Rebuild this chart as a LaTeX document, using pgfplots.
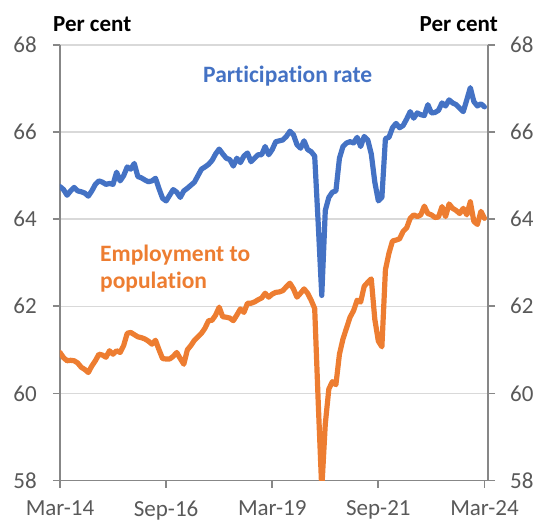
\documentclass[border=0pt]{standalone}
\usepackage{pgfplots}
\pgfplotsset{compat=1.18}
\usepackage{pgfplotstable}
\usepackage{fontspec}
\setmainfont{Carlito}[Ligatures={NoCommon}]
\definecolor{pblue}{HTML}{4472C4}
\definecolor{porange}{HTML}{ED7D31}
\definecolor{tgray}{HTML}{595959}
\definecolor{agray}{HTML}{878787}
\definecolor{ggray}{HTML}{D9D9D9}

\pgfplotstableread{
m v
0 64.75
1 64.68
2 64.55
3 64.65
4 64.73
5 64.65
6 64.63
7 64.60
8 64.53
9 64.65
10 64.80
11 64.88
12 64.85
13 64.80
14 64.82
15 64.80
16 65.08
17 64.88
18 65.00
19 65.20
20 65.15
21 65.28
22 64.98
23 64.95
24 64.90
25 64.86
26 64.88
27 64.94
28 64.70
29 64.48
30 64.42
31 64.55
32 64.68
33 64.62
34 64.50
35 64.65
36 64.71
37 64.78
38 64.85
39 65.00
40 65.15
41 65.20
42 65.26
43 65.35
44 65.50
45 65.61
46 65.50
47 65.40
48 65.37
49 65.22
50 65.40
51 65.30
52 65.45
53 65.52
54 65.32
55 65.40
56 65.48
57 65.48
58 65.67
59 65.48
60 65.60
61 65.78
62 65.80
63 65.82
64 65.90
65 66.02
66 65.94
67 65.71
68 65.63
69 65.80
70 65.60
71 65.55
72 65.45
73 63.90
74 62.25
75 64.20
76 64.50
77 64.62
78 64.65
79 65.40
80 65.67
81 65.75
82 65.78
83 65.75
84 65.88
85 65.67
86 65.90
87 65.82
88 65.50
89 64.85
90 64.42
91 64.50
92 65.85
93 65.88
94 66.10
95 66.20
96 66.10
97 66.15
98 66.30
99 66.47
100 66.32
101 66.44
102 66.40
103 66.38
104 66.63
105 66.44
106 66.45
107 66.50
108 66.67
109 66.60
110 66.74
111 66.67
112 66.63
113 66.55
114 66.47
115 66.74
116 67.02
117 66.70
118 66.60
119 66.65
120 66.58
}\partrate

\pgfplotstableread{
m v
0 60.94
1 60.82
2 60.75
3 60.76
4 60.75
5 60.70
6 60.60
7 60.55
8 60.48
9 60.63
10 60.75
11 60.90
12 60.88
13 60.83
14 60.98
15 60.90
16 60.98
17 60.94
18 61.10
19 61.38
20 61.40
21 61.35
22 61.30
23 61.28
24 61.25
25 61.20
26 61.13
27 61.22
28 61.00
29 60.80
30 60.79
31 60.79
32 60.85
33 60.94
34 60.80
35 60.67
36 61.00
37 61.10
38 61.22
39 61.30
40 61.38
41 61.50
42 61.67
43 61.68
44 61.80
45 61.98
46 61.76
47 61.75
48 61.73
49 61.67
50 61.80
51 61.94
52 61.86
53 62.07
54 62.07
55 62.10
56 62.15
57 62.19
58 62.30
59 62.21
60 62.28
61 62.32
62 62.33
63 62.36
64 62.45
65 62.53
66 62.40
67 62.21
68 62.30
69 62.40
70 62.30
71 62.14
72 61.95
73 59.80
74 57.80
75 59.30
76 60.10
77 60.27
78 60.20
79 60.90
80 61.25
81 61.50
82 61.75
83 61.90
84 62.14
85 62.10
86 62.46
87 62.55
88 62.63
89 61.70
90 61.20
91 61.07
92 62.84
93 63.22
94 63.50
95 63.52
96 63.55
97 63.72
98 63.80
99 64.02
100 64.10
101 64.06
102 64.10
103 64.30
104 64.13
105 64.10
106 64.04
107 64.05
108 64.29
109 64.06
110 64.35
111 64.25
112 64.20
113 64.13
114 64.25
115 64.10
116 64.40
117 63.95
118 63.88
119 64.18
120 64.02
}\emppop

\begin{document}
\begin{tikzpicture}
\useasboundingbox (-60pt,-42.5pt) rectangle (477pt,480.5pt);
\begin{axis}[
  name=main, at={(0,0)}, anchor=south west,
  scale only axis, width=428pt, height=435.5pt,
  xmin=0, xmax=121, ymin=58, ymax=68,
  axis x line*=bottom, axis y line*=left,
  xtick={0,30,60,90,120},
  xticklabels={Mar-14,Sep-16,Mar-19,Sep-21,Mar-24},
  ytick={58,60,62,64,66,68},
  yticklabels={58,60,62,64,66,68},
  tick align=outside, major tick length=7pt,
  ymajorgrids, major grid style={ggray, line width=1.5pt},
  axis line style={agray, line width=1.8pt},
  tick style={agray, line width=1.8pt},
  ticklabel style={font=\fontsize{23}{27}\selectfont, text=tgray},
  yticklabel style={anchor=east, inner sep=0pt, xshift=-16pt},
  xticklabel style={anchor=north, inner sep=0pt, yshift=-13pt},
  clip=true,
]
\addplot[pblue, line width=5.2pt, line join=round, line cap=round] table[x=m, y=v] {\partrate};
\addplot[porange, line width=5.2pt, line join=round, line cap=round] table[x=m, y=v] {\emppop};
\end{axis}
\begin{axis}[
  at={(0,0)}, anchor=south west,
  scale only axis, width=428pt, height=435.5pt,
  xmin=0, xmax=121, ymin=58, ymax=68,
  axis x line=none, axis y line*=right,
  ytick={58,60,62,64,66,68},
  yticklabels={58,60,62,64,66,68},
  tick align=outside, major tick length=7pt,
  axis line style={agray, line width=1.8pt},
  tick style={agray, line width=1.8pt},
  ticklabel style={font=\fontsize{23}{27}\selectfont, text=tgray},
  yticklabel style={anchor=west, inner sep=0pt, xshift=15pt},
]
\addplot[draw=none] coordinates {(0,60)};
\end{axis}
\node[anchor=base west, inner sep=0pt, font=\fontsize{23}{27}\selectfont\bfseries] at ([xshift=-7pt,yshift=13pt]main.north west) {Per cent};
\node[anchor=base east, inner sep=0pt, font=\fontsize{23}{27}\selectfont\bfseries] at ([xshift=10pt,yshift=13pt]main.north east) {Per cent};
\node[anchor=base west, inner sep=0pt, text=pblue, font=\fontsize{23.5}{28}\selectfont\bfseries] at ([xshift=143pt,yshift=398.2pt]main.south west) {Participation rate};
\node[anchor=base west, inner sep=0pt, text=porange, font=\fontsize{23.5}{28}\selectfont\bfseries] at ([xshift=40pt,yshift=219.5pt]main.south west) {Employment to};
\node[anchor=base west, inner sep=0pt, text=porange, font=\fontsize{23.5}{28}\selectfont\bfseries] at ([xshift=40pt,yshift=192.5pt]main.south west) {population};
\end{tikzpicture}
\end{document}
